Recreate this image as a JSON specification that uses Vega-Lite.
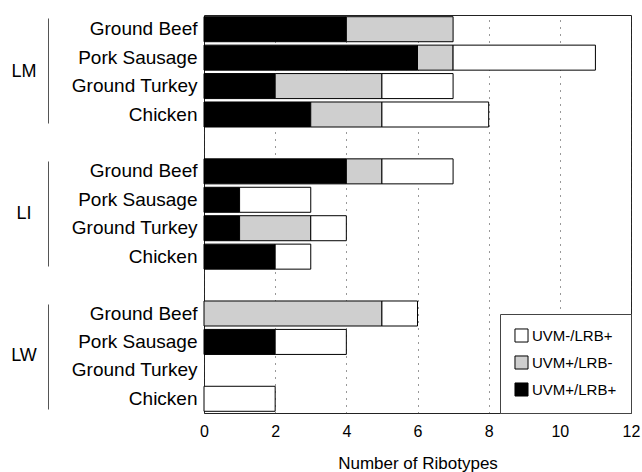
{
  "$schema": "https://vega.github.io/schema/vega-lite/v6.json",
  "padding": {"left": 0, "top": 14, "right": 5, "bottom": 0},
  "spacing": 0,
  "config": {
    "view": {"stroke": null},
    "font": "Liberation Sans",
    "axis": {"labelFont": "Liberation Sans", "titleFont": "Liberation Sans", "labelColor": "black", "titleColor": "black", "titleFontWeight": "normal"}
  },
  "resolve": {"scale": {"color": "independent"}},
  "hconcat": [
    {
      "width": 48,
      "height": 398,
      "data": {"values": [{"group": "LM"}, {"group": "LI"}, {"group": "LW"}]},
      "mark": {"type": "text", "fontSize": 18, "font": "Liberation Sans", "color": "black"},
      "encoding": {
        "y": {"field": "group", "type": "nominal", "scale": {"type": "point", "domain": ["LM", "LI", "LW"], "padding": 0.4}, "axis": null},
        "text": {"field": "group"}
      }
    },
    {
      "width": 1,
      "height": 398,
      "data": {"values": [{"group": "LM"}, {"group": "LI"}, {"group": "LW"}]},
      "mark": {"type": "rect", "color": "#555"},
      "encoding": {
        "y": {"field": "group", "type": "nominal", "scale": {"domain": ["LM", "LI", "LW"], "paddingInner": 0.266, "paddingOuter": 0.025}, "axis": null}
      }
    },
    {
      "width": 427,
      "height": 398,
      "view": {"stroke": "#222", "strokeWidth": 1},
      "data": {"values": [
        {"group": "LM", "food": "Ground Beef", "status": "UVM+/LRB+", "count": 4},
        {"group": "LM", "food": "Ground Beef", "status": "UVM+/LRB-", "count": 3},
        {"group": "LM", "food": "Pork Sausage", "status": "UVM+/LRB+", "count": 6},
        {"group": "LM", "food": "Pork Sausage", "status": "UVM+/LRB-", "count": 1},
        {"group": "LM", "food": "Pork Sausage", "status": "UVM-/LRB+", "count": 4},
        {"group": "LM", "food": "Ground Turkey", "status": "UVM+/LRB+", "count": 2},
        {"group": "LM", "food": "Ground Turkey", "status": "UVM+/LRB-", "count": 3},
        {"group": "LM", "food": "Ground Turkey", "status": "UVM-/LRB+", "count": 2},
        {"group": "LM", "food": "Chicken", "status": "UVM+/LRB+", "count": 3},
        {"group": "LM", "food": "Chicken", "status": "UVM+/LRB-", "count": 2},
        {"group": "LM", "food": "Chicken", "status": "UVM-/LRB+", "count": 3},
        {"group": "LI", "food": "Ground Beef", "status": "UVM+/LRB+", "count": 4},
        {"group": "LI", "food": "Ground Beef", "status": "UVM+/LRB-", "count": 1},
        {"group": "LI", "food": "Ground Beef", "status": "UVM-/LRB+", "count": 2},
        {"group": "LI", "food": "Pork Sausage", "status": "UVM+/LRB+", "count": 1},
        {"group": "LI", "food": "Pork Sausage", "status": "UVM-/LRB+", "count": 2},
        {"group": "LI", "food": "Ground Turkey", "status": "UVM+/LRB+", "count": 1},
        {"group": "LI", "food": "Ground Turkey", "status": "UVM+/LRB-", "count": 2},
        {"group": "LI", "food": "Ground Turkey", "status": "UVM-/LRB+", "count": 1},
        {"group": "LI", "food": "Chicken", "status": "UVM+/LRB+", "count": 2},
        {"group": "LI", "food": "Chicken", "status": "UVM-/LRB+", "count": 1},
        {"group": "LW", "food": "Ground Beef", "status": "UVM+/LRB-", "count": 5},
        {"group": "LW", "food": "Ground Beef", "status": "UVM-/LRB+", "count": 1},
        {"group": "LW", "food": "Pork Sausage", "status": "UVM+/LRB+", "count": 2},
        {"group": "LW", "food": "Pork Sausage", "status": "UVM-/LRB+", "count": 2},
        {"group": "LW", "food": "Chicken", "status": "UVM-/LRB+", "count": 2}
      ]},
      "transform": [{"calculate": "datum.group + '|' + datum.food", "as": "key"}],
      "mark": {"type": "bar", "stroke": "black", "strokeWidth": 1},
      "encoding": {
        "y": {
          "field": "key", "type": "nominal",
          "scale": {"domain": [
            "LM|Ground Beef", "LM|Pork Sausage", "LM|Ground Turkey", "LM|Chicken", "gap1",
            "LI|Ground Beef", "LI|Pork Sausage", "LI|Ground Turkey", "LI|Chicken", "gap2",
            "LW|Ground Beef", "LW|Pork Sausage", "LW|Ground Turkey", "LW|Chicken"
          ], "paddingInner": 0.12, "paddingOuter": 0.06},
          "axis": {
            "title": null, "ticks": false, "domain": false, "grid": false,
            "labelFontSize": 19, "labelPadding": 7, "minExtent": 154, "maxExtent": 154,
            "labelExpr": "split(datum.value, '|')[1] || ''"
          }
        },
        "x": {
          "field": "count", "type": "quantitative", "stack": "zero",
          "scale": {"domain": [0, 12], "nice": false},
          "axis": {
            "title": "Number of Ribotypes", "values": [0, 2, 4, 6, 8, 10, 12],
            "ticks": false, "domain": false, "grid": true, "gridDash": [1, 6], "gridColor": "#333",
            "labelFontSize": 16, "titleFontSize": 17, "labelPadding": 10, "titlePadding": 16, "labelFlush": false
          }
        },
        "color": {
          "field": "status", "type": "nominal",
          "scale": {"domain": ["UVM-/LRB+", "UVM+/LRB-", "UVM+/LRB+"], "range": ["white", "#cfcfcf", "black"]},
          "legend": {
            "title": null, "orient": "bottom-right", "offset": 0, "strokeColor": "#444", "fillColor": "white",
            "padding": 14, "symbolType": "square", "symbolSize": 170, "symbolStrokeColor": "black", "symbolStrokeWidth": 1,
            "labelFontSize": 15, "labelFont": "Liberation Sans", "labelColor": "black", "rowPadding": 8, "labelOffset": 3
          }
        },
        "order": {"field": "status", "sort": "ascending"}
      }
    }
  ]
}
